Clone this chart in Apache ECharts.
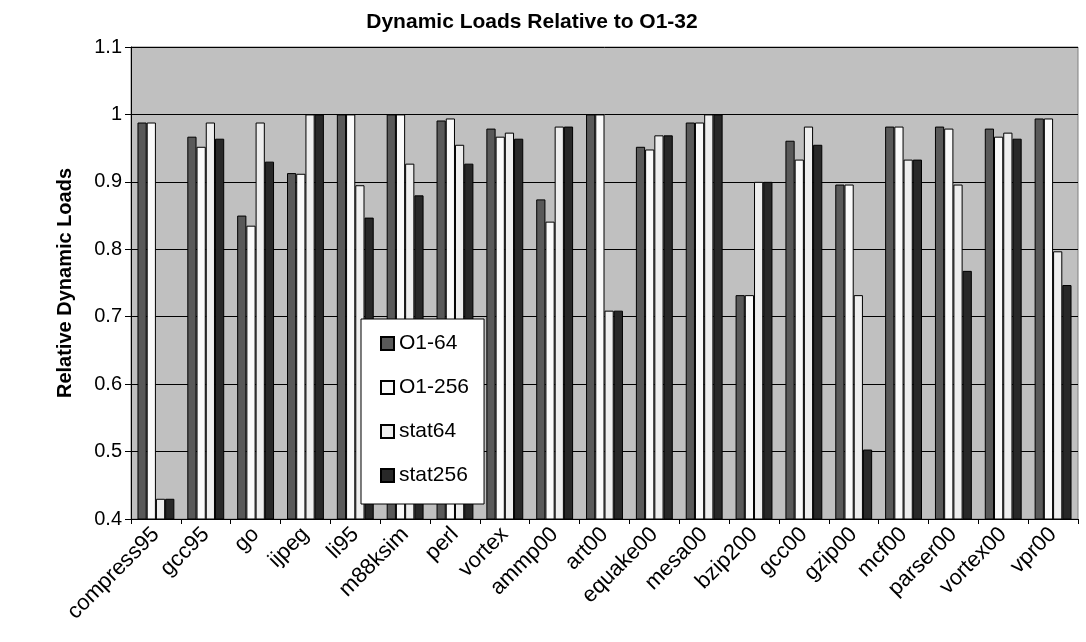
<!DOCTYPE html>
<html>
<head>
<meta charset="utf-8">
<script src="https://cdn.jsdelivr.net/npm/echarts@6/dist/echarts.min.js"></script>
<style>
html,body{margin:0;padding:0;background:#fff;}
#c{width:1086px;height:642px;}
</style>
</head>
<body>
<div id="c"></div>
<script>
const categories = ['compress95','gcc95','go','ijpeg','li95','m88ksim','perl','vortex','ammp00','art00','equake00','mesa00','bzip200','gcc00','gzip00','mcf00','parser00','vortex00','vpr00'];
const seriesNames = ['O1-64','O1-256','stat64','stat256'];
const o1_64   = [0.988,0.967,0.850,0.913,1.000,1.000,0.991,0.979,0.874,1.000,0.952,0.988,0.732,0.961,0.896,0.982,0.982,0.979,0.994];
const o1_256  = [0.988,0.952,0.835,0.912,1.000,1.000,0.994,0.967,0.841,1.000,0.948,0.988,0.732,0.933,0.896,0.982,0.979,0.967,0.994];
const stat64  = [0.430,0.988,0.988,1.000,0.895,0.927,0.955,0.973,0.982,0.709,0.969,1.000,0.900,0.982,0.732,0.933,0.896,0.973,0.797];
const stat256 = [0.430,0.964,0.930,1.000,0.847,0.880,0.927,0.964,0.982,0.709,0.969,1.000,0.900,0.955,0.503,0.933,0.768,0.964,0.747];
const yTicks = {min:0.4, max:1.1, interval:0.1};

const colors = ['#595959','#FAFAFA','#EEEEEE','#282828'];
const values = [o1_64, o1_256, stat64, stat256];
const font = 'Arial, "Liberation Sans", Helvetica, sans-serif';

const chart = echarts.init(document.getElementById('c'), null, {renderer:'canvas'});
chart.setOption({
  animation:false,
  backgroundColor:'#fff',
  title:{
    text:'Dynamic Loads Relative to O1-32',
    left:527, top:7, textAlign:'center',
    textStyle:{fontFamily:font, fontSize:21, fontWeight:'bold', color:'#000'}
  },
  legend:{
    orient:'vertical', left:361, top:319,
    backgroundColor:'#fff', borderColor:'#000', borderWidth:1,
    padding:[14,15,18,19],
    itemWidth:13, itemHeight:13, itemGap:23,
    icon:'rect',
    textStyle:{fontFamily:font, fontSize:21, color:'#000'},
    data:seriesNames
  },
  grid:{
    left:131, right:8, top:47, bottom:123,
    show:true, backgroundColor:'#C0C0C0', borderColor:'#808080', borderWidth:1
  },
  xAxis:{
    type:'category', data:categories,
    axisLine:{show:true, lineStyle:{color:'#000', width:1}},
    axisTick:{show:true, length:5, lineStyle:{color:'#000'}},
    axisLabel:{rotate:45, interval:0, fontFamily:font, fontSize:22, color:'#000', margin:12},
    splitLine:{show:false}
  },
  yAxis:{
    type:'value', min:yTicks.min, max:yTicks.max, interval:yTicks.interval,
    name:'Relative Dynamic Loads', nameLocation:'middle', nameGap:56, nameRotate:90,
    nameTextStyle:{fontFamily:font, fontSize:20, fontWeight:'bold', color:'#000'},
    axisLine:{show:true, lineStyle:{color:'#000', width:1}},
    axisTick:{show:true, length:6, lineStyle:{color:'#000'}},
    axisLabel:{fontFamily:font, fontSize:20, color:'#000', margin:9},
    splitLine:{show:true, lineStyle:{color:'#000', width:1}}
  },
  series: seriesNames.map((n,i)=>({
    name:n, type:'bar', data:values[i],
    barGap:'0%', barCategoryGap:'26%',
    itemStyle:{color:colors[i], borderColor:'#000', borderWidth:1}
  }))
});
</script>
</body>
</html>
